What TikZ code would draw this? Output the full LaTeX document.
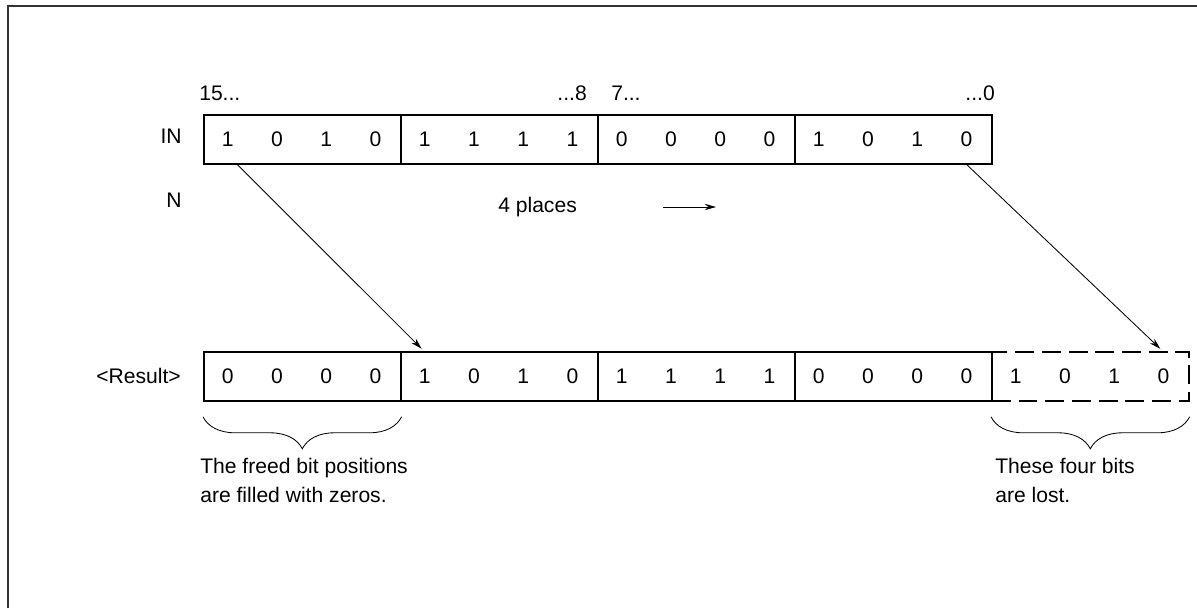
\documentclass[tikz,border=0pt]{standalone}
\usepackage{fontspec}
\setmainfont{Liberation Sans}
\usetikzlibrary{arrows.meta, positioning, calc, decorations.pathreplacing}

\begin{document}
\begin{tikzpicture}[x=0.025cm, y=-0.025cm, >=Stealth,
  font=\fontsize{15}{20.5}\selectfont,
  grp/.style={draw, line width=1.1pt, minimum width=4.925cm, minimum height=1.225cm, inner sep=0pt, anchor=west},
  bit/.style={minimum width=1.23125cm, minimum height=1.225cm, inner sep=0pt},
  lbl/.style={inner sep=0pt},
  shiftarrow/.style={-{Stealth[length=8pt, width=4.5pt]}, line width=0.6pt},
  brc/.style={decorate, decoration={brace, mirror, amplitude=0.8cm}, line width=0.6pt}]
  \useasboundingbox (0,0) rectangle (1197,608);
  \draw[line width=1.7pt, black!80] (7.8,608) -- (7.8,6.2) -- (1197,6.2);

  \foreach \k in {0,...,3} {
    \node[grp] (ing\k) at ({203+197*\k},139.5) {};
  }
  \foreach \b [count=\n from 0] in {1,0,1,0,1,1,1,1,0,0,0,0,1,0,1,0} {
    \node[bit] (in\n) at ({227.625+49.25*\n},139.5) {\b};
  }
  \node[lbl, anchor=base west] (hi) at (199,100) {15...};
  \node[lbl, anchor=base east] (mid1) at (587,100) {...8};
  \node[lbl, anchor=base west] (mid0) at (611,100) {7...};
  \node[lbl, anchor=base east] (lo) at (995,100) {...0};
  \node[lbl, anchor=base east] (inlbl) at (182,143) {IN};
  \node[lbl, anchor=base east] (nlbl) at (182,207) {N};
  \node[lbl, anchor=base west] (places) at (498,212) {4 places};
  \coordinate (sh0) at (663,207);
  \coordinate (sh1) at (716,207);
  \draw[shiftarrow] (sh0) -- (sh1);

  \foreach \k in {0,...,3} {
    \node[grp] (resg\k) at ({203+197*\k},376.5) {};
  }
  \node[grp, dash pattern=on 13.5pt off 5.5pt] (lost) at (991,376.5) {};
  \foreach \b [count=\n from 0] in {0,0,0,0,1,0,1,0,1,1,1,1,0,0,0,0,1,0,1,0} {
    \node[bit] (res\n) at ({227.625+49.25*\n},376.5) {\b};
  }
  \node[lbl, anchor=base east] (reslbl) at (181,383) {<Result>};

  \draw[shiftarrow, shorten >=3pt] ([xshift=0.235cm]in0.south) -- (res4.north);
  \draw[shiftarrow, shorten >=3pt] (in15.south) -- (res19.north);

  \draw[brc] ([yshift=-0.375cm]resg0.south west) -- ([yshift=-0.375cm]resg0.south east);
  \draw[brc] ([yshift=-0.375cm]lost.south west) -- ([yshift=-0.375cm]lost.south east);
  \node[lbl, anchor=north west, align=left] (freed) at (200,458) {The freed bit positions\\are filled with zeros.};
  \node[lbl, anchor=north west, align=left] (lostnote) at (995,458) {These four bits\\are lost.};
\end{tikzpicture}
\end{document}
